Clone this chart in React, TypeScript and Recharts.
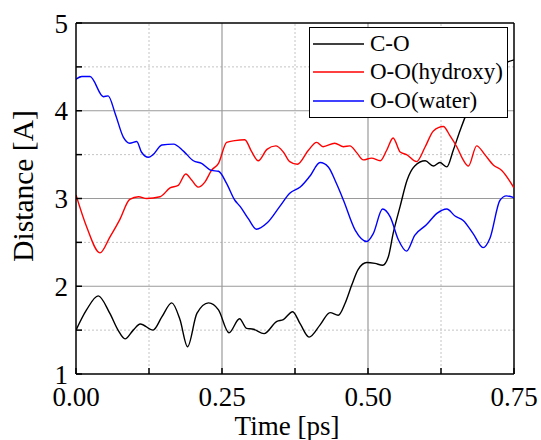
import React from 'react';
import { LineChart, Line, XAxis, YAxis, ReferenceLine, Label } from 'recharts';

const serif = 'Liberation Serif';

// C-O distance
const coTime = [0, 0.018, 0.038, 0.058, 0.072, 0.084, 0.098, 0.11, 0.132, 0.147, 0.164, 0.178, 0.191, 0.207, 0.227, 0.244, 0.262, 0.28, 0.292, 0.304, 0.322, 0.344, 0.355, 0.371, 0.384, 0.399, 0.418, 0.435, 0.449, 0.461, 0.472, 0.483, 0.498, 0.512, 0.525, 0.535, 0.543, 0.555, 0.567, 0.58, 0.598, 0.612, 0.623, 0.635, 0.646, 0.658, 0.669, 0.69, 0.71, 0.73, 0.75];
const coDist = [1.5, 1.73, 1.89, 1.69, 1.5, 1.4, 1.5, 1.57, 1.5, 1.65, 1.81, 1.62, 1.31, 1.69, 1.81, 1.73, 1.47, 1.63, 1.52, 1.51, 1.46, 1.6, 1.62, 1.71, 1.57, 1.42, 1.56, 1.7, 1.67, 1.81, 2.01, 2.19, 2.27, 2.26, 2.24, 2.34, 2.6, 2.91, 3.21, 3.37, 3.43, 3.37, 3.41, 3.36, 3.55, 3.78, 3.97, 4.18, 4.36, 4.52, 4.58];

// O-O (hydroxy)
const hydroxyTime = [0, 0.018, 0.041, 0.058, 0.075, 0.092, 0.107, 0.121, 0.144, 0.161, 0.175, 0.188, 0.198, 0.209, 0.221, 0.232, 0.244, 0.258, 0.272, 0.289, 0.301, 0.312, 0.327, 0.342, 0.355, 0.366, 0.379, 0.398, 0.412, 0.423, 0.443, 0.458, 0.469, 0.481, 0.492, 0.506, 0.521, 0.532, 0.543, 0.555, 0.566, 0.583, 0.598, 0.612, 0.629, 0.64, 0.652, 0.663, 0.672, 0.686, 0.7, 0.715, 0.729, 0.75];
const hydroxyDist = [3.04, 2.68, 2.38, 2.56, 2.76, 2.99, 3.02, 3.0, 3.02, 3.12, 3.15, 3.28, 3.21, 3.13, 3.19, 3.32, 3.4, 3.64, 3.66, 3.67, 3.53, 3.43, 3.56, 3.6, 3.53, 3.42, 3.39, 3.55, 3.64, 3.59, 3.63, 3.59, 3.6, 3.52, 3.44, 3.46, 3.43, 3.55, 3.69, 3.53, 3.5, 3.42, 3.59, 3.77, 3.82, 3.72, 3.59, 3.44, 3.37, 3.6, 3.5, 3.38, 3.32, 3.12];

// O-O (water)
const waterTime = [0, 0.01, 0.024, 0.047, 0.055, 0.067, 0.081, 0.092, 0.104, 0.112, 0.124, 0.132, 0.147, 0.167, 0.184, 0.201, 0.215, 0.232, 0.244, 0.258, 0.272, 0.281, 0.295, 0.309, 0.327, 0.349, 0.366, 0.384, 0.4, 0.418, 0.432, 0.446, 0.458, 0.478, 0.498, 0.509, 0.525, 0.538, 0.552, 0.566, 0.58, 0.6, 0.618, 0.635, 0.649, 0.663, 0.68, 0.697, 0.709, 0.726, 0.737, 0.75];
const waterDist = [4.36, 4.39, 4.39, 4.16, 4.17, 3.97, 3.7, 3.63, 3.65, 3.53, 3.47, 3.5, 3.61, 3.62, 3.54, 3.43, 3.4, 3.32, 3.31, 3.17, 2.98, 2.91, 2.77, 2.65, 2.72, 2.91, 3.06, 3.13, 3.25, 3.41, 3.36, 3.17, 2.98, 2.64, 2.51, 2.6, 2.88, 2.79, 2.53, 2.4, 2.58, 2.7, 2.83, 2.88, 2.8, 2.75, 2.6, 2.44, 2.55, 2.98, 3.03, 3.01];

const xTicks = [0, 0.125, 0.25, 0.375, 0.5, 0.625, 0.75];
const yTicks = [1, 1.5, 2, 2.5, 3, 3.5, 4, 4.5, 5];
const xMajor = [0.25, 0.5];
const xMinor = [0.125, 0.375, 0.625];
const yMajor = [2, 3, 4];
const yMinor = [1.5, 2.5, 3.5, 4.5];

const series = [
  { name: 'C-O', color: '#000000', time: coTime, dist: coDist },
  { name: 'O-O(hydroxy)', color: '#ff0000', time: hydroxyTime, dist: hydroxyDist },
  { name: 'O-O(water)', color: '#0000ff', time: waterTime, dist: waterDist },
];

const legendTops = [2, 30, 59];

const toRows = (time: number[], dist: number[]) => time.map((t, i) => ({ t, d: dist[i] }));

export default function App() {
  return (
    <div style={{ position: 'absolute', left: 0, top: 0, width: 541, height: 440, background: '#fff' }}>
      <LineChart width={541} height={440} margin={{ top: 23, right: 27, bottom: 0, left: 0 }}>
        <XAxis
          type="number"
          dataKey="t"
          domain={[0, 0.75]}
          ticks={xTicks}
          allowDataOverflow
          height={66}
          tickSize={-6}
          tickMargin={19}
          stroke="#000"
          strokeWidth={1.5}
          tickFormatter={(v: number) => (xMinor.includes(v) ? '' : v.toFixed(2))}
          tick={{ fill: '#000', fontSize: 27, fontFamily: serif }}
        >
          <Label
            content={() => (
              <text x={287} y={435} textAnchor="middle" fontSize={27} fontFamily={serif} fill="#000">
                Time [ps]
              </text>
            )}
          />
        </XAxis>
        <YAxis
          type="number"
          domain={[1, 5]}
          ticks={yTicks}
          allowDataOverflow
          width={76}
          tickSize={-6}
          tickMargin={14}
          stroke="#000"
          strokeWidth={1.5}
          tickFormatter={(v: number) => (Number.isInteger(v) ? String(v) : '')}
          tick={{ fill: '#000', fontSize: 27, fontFamily: serif }}
        >
          <Label
            content={() => (
              <text
                x={33}
                y={186}
                transform="rotate(-90 33 186)"
                textAnchor="middle"
                fontSize={29.5}
                fontFamily={serif}
                fill="#000"
              >
                Distance [A]
              </text>
            )}
          />
        </YAxis>

        {xMinor.map((v) => (
          <ReferenceLine key={'xm' + v} x={v} stroke="#c4c4c4" strokeDasharray="2 2" />
        ))}
        {yMinor.map((v) => (
          <ReferenceLine key={'ym' + v} y={v} stroke="#c4c4c4" strokeDasharray="2 2" />
        ))}
        {xMajor.map((v) => (
          <ReferenceLine key={'xM' + v} x={v} stroke="#9a9a9a" strokeWidth={1.2} />
        ))}
        {yMajor.map((v) => (
          <ReferenceLine key={'yM' + v} y={v} stroke="#9a9a9a" strokeWidth={1.2} />
        ))}
        <ReferenceLine x={0.75} stroke="#000" strokeWidth={1.5} />
        <ReferenceLine y={5} stroke="#000" strokeWidth={1.5} />

        {series.map((s) => (
          <Line
            key={s.name}
            data={toRows(s.time, s.dist)}
            dataKey="d"
            name={s.name}
            type="monotone"
            stroke={s.color}
            strokeWidth={1.4}
            dot={false}
            isAnimationActive={false}
          />
        ))}
      </LineChart>

      {/* Legend */}
      <div
        style={{
          position: 'absolute',
          left: 309,
          top: 27,
          width: 197,
          height: 89,
          border: '1px solid #000',
          background: '#fff',
          fontFamily: serif,
          fontSize: 23,
          color: '#000',
        }}
      >
        {series.map((s, i) => (
          <div
            key={s.name}
            style={{ position: 'absolute', left: 3, top: legendTops[i], height: 28, display: 'flex', alignItems: 'center' }}
          >
            <svg width={51} height={4} style={{ display: 'block' }}>
              <line x1={0} x2={51} y1={2} y2={2} stroke={s.color} strokeWidth={1.5} />
            </svg>
            <span style={{ marginLeft: 6, lineHeight: '28px', whiteSpace: 'nowrap' }}>{s.name}</span>
          </div>
        ))}
      </div>
    </div>
  );
}
